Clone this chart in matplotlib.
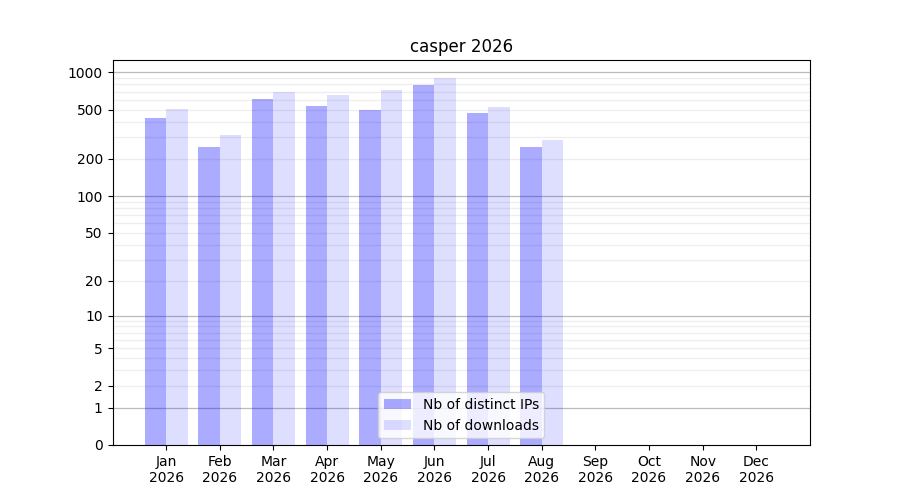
import numpy as np
import matplotlib
matplotlib.use("Agg")
import matplotlib.pyplot as plt

months = ["Jan", "Feb", "Mar", "Apr", "May", "Jun", "Jul", "Aug", "Sep", "Oct", "Nov", "Dec"]
year = "2026"
ips = [429, 250, 610, 535, 497, 791, 470, 250, 0, 0, 0, 0]
downloads = [506, 312, 694, 652, 720, 900, 526, 285, 0, 0, 0, 0]
yticks = [0, 1, 2, 5, 10, 20, 50, 100, 200, 500, 1000]

fwd = lambda v: np.log10(1 + np.asarray(v, dtype=float))
inv = lambda v: 10 ** np.asarray(v, dtype=float) - 1

fig, ax = plt.subplots(figsize=(9, 5), dpi=100)
ax.set_yscale("function", functions=(fwd, inv))
x = np.arange(len(months))
w = 0.4
ax.bar(x - w / 2, ips, width=w, color="blue", alpha=0.33, label="Nb of distinct IPs")
ax.bar(x + w / 2, downloads, width=w, color="blue", alpha=0.13, label="Nb of downloads")

for d in [1, 10, 100, 1000]:
    ax.axhline(d, color="#bbbbbb", lw=0.9, zorder=0.5)
    if d < 1000:
        for k in range(2, 10):
            ax.axhline(d * k, color="#eeeeee", lw=0.9, zorder=0.5)

ax.set_xlim(-1, 12)
ax.set_ylim(0, 1256)
ax.set_yticks(yticks)
ax.set_yticklabels([str(t) for t in yticks])
ax.yaxis.set_minor_locator(matplotlib.ticker.NullLocator())
ax.set_xticks(x)
ax.set_xticklabels([f"{m}\n{year}" for m in months])
ax.set_title("casper 2026")
ax.legend(loc="lower center")
fig.savefig("out.png")
